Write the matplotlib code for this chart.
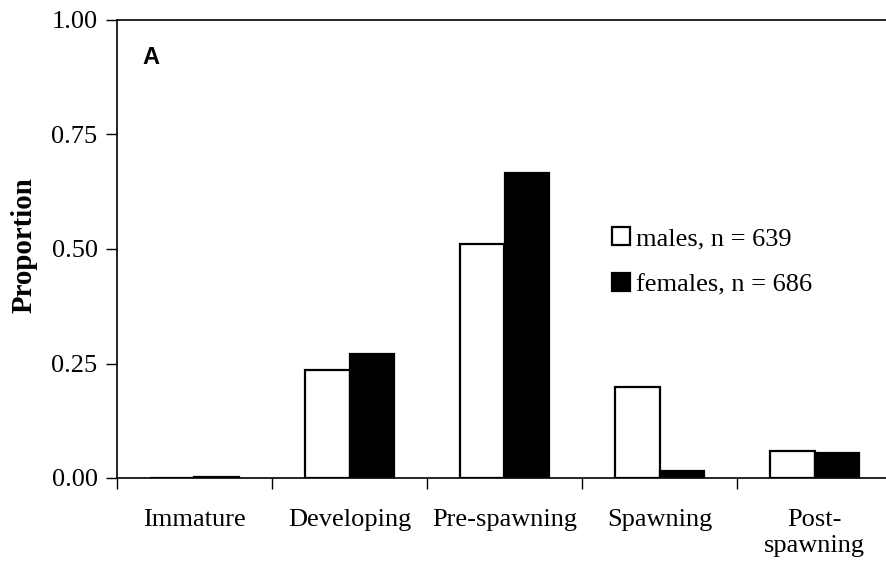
import numpy as np
import matplotlib
matplotlib.use("Agg")
import matplotlib.pyplot as plt

# data
stages = ["Immature", "Developing", "Pre-spawning", "Spawning", "Post-\nspawning"]
males = [0.0, 0.236, 0.512, 0.199, 0.060]
females = [0.003, 0.270, 0.667, 0.015, 0.055]
male_label = "males, n = 639"
female_label = "females, n = 686"
yticks = [0.0, 0.25, 0.5, 0.75, 1.0]

plt.rcParams["font.family"] = ["Liberation Serif", "DejaVu Serif"]

fig = plt.figure(figsize=(8.87, 5.70), dpi=100)
ax = fig.add_axes([117 / 887, 92 / 570, 775 / 887, 458 / 570])

x = np.arange(len(stages))
w = 0.285
ax.bar(x - w / 2, males, w, color="white", edgecolor="black", linewidth=1.6, label=male_label)
ax.bar(x + w / 2, females, w, color="black", edgecolor="black", linewidth=1.6, label=female_label)

ax.set_xlim(-0.5, 4.5)
ax.set_ylim(0, 1.0)
ax.set_yticks(yticks)
ax.set_yticklabels(["%.2f" % v for v in yticks], fontsize=19)
# category boundaries get the tick marks, names sit between them
ax.set_xticks(np.arange(-0.5, 5.0, 1.0))
ax.set_xticklabels([])
ax.set_xticks(x, minor=True)
ax.set_xticklabels(stages, minor=True, fontsize=19, linespacing=1.25)
ax.tick_params(axis="x", which="minor", length=0, pad=22)
ax.tick_params(axis="x", which="major", direction="out", length=8, width=1)
ax.tick_params(axis="y", direction="out", length=8, width=1, pad=6)

for s in ["left", "top", "bottom"]:
    ax.spines[s].set_linewidth(1.2)
ax.spines["right"].set_visible(False)

ax.set_ylabel("Proportion", fontsize=20.8, fontweight="bold")
ax.yaxis.set_label_coords(-0.103, 0.509)

fig.text(142 / 887, 1 - 57 / 570, "A", fontsize=17, fontweight="bold",
         family="Liberation Sans", ha="left", va="center")

leg = ax.legend(loc="upper left", bbox_to_anchor=(612 / 887, 1 - 227 / 570),
                bbox_transform=fig.transFigure, frameon=False, fontsize=19,
                handlelength=0.7, handleheight=0.7, handletextpad=0.2,
                labelspacing=0.85, borderpad=0, borderaxespad=0)

fig.savefig("out.png", dpi=100)
